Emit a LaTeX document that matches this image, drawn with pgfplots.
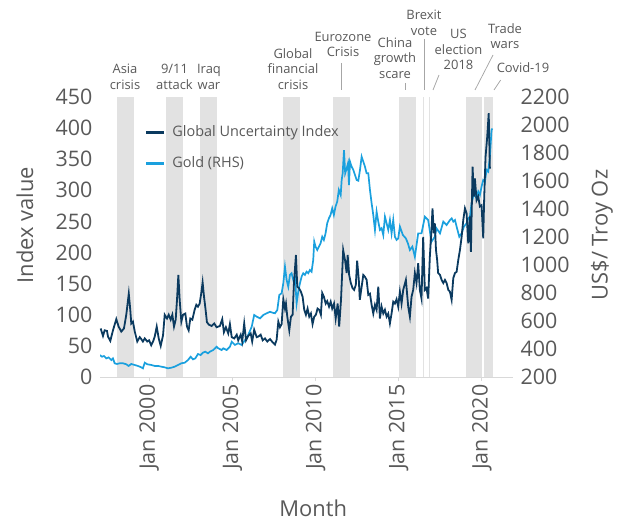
\documentclass[border=0pt]{standalone}
\usepackage{pgfplots}
\pgfplotsset{compat=1.18}
\usepackage{pgfplotstable}
\usepackage{fontspec}
\setmainfont{Open Sans}

\definecolor{navy}{HTML}{0B3A5F}
\definecolor{goldblue}{HTML}{1AA0DE}
\definecolor{band}{HTML}{E2E2E2}
\definecolor{textgray}{HTML}{595959}
\definecolor{axisgray}{HTML}{D9D9D9}
\definecolor{leadgray}{HTML}{A6A6A6}

\newcommand\tickfont{\fontsize{21.5}{24}\selectfont}
\newcommand\labfont{\fontsize{22}{26}\selectfont}
\newcommand\notefont{\fontsize{13}{15.5}\selectfont}

% Global Uncertainty Index (left axis)
\pgfplotstableread{
year gui
1997.08 78
1997.22 66
1997.32 75
1997.46 74
1997.52 65
1997.66 58
1997.82 75
1998.02 93
1998.16 81
1998.32 73
1998.48 78
1998.62 100
1998.77 134
1998.86 108
1998.92 86
1999.02 89
1999.13 73
1999.28 57
1999.43 64
1999.52 61
1999.62 57
1999.73 62
1999.88 57
1999.99 59
2000.12 51
2000.23 57
2000.33 65
2000.45 81
2000.57 62
2000.69 50
2000.83 67
2000.93 100
2001.07 94
2001.17 100
2001.29 92
2001.39 100
2001.49 81
2001.59 92
2001.67 124
2001.75 164
2001.83 124
2001.93 89
2002.03 100
2002.17 102
2002.27 81
2002.37 75
2002.47 94
2002.59 92
2002.73 108
2002.83 116
2002.93 113
2003.03 118
2003.13 135
2003.21 152
2003.29 130
2003.38 110
2003.47 88
2003.59 84
2003.75 82
2003.91 86
2004.05 80
2004.25 82
2004.39 93
2004.49 72
2004.61 80
2004.75 70
2004.85 85
2004.96 64
2005.11 62
2005.26 68
2005.35 59
2005.50 68
2005.59 57
2005.71 86
2005.82 59
2005.95 66
2006.10 70
2006.19 57
2006.31 76
2006.46 64
2006.56 65
2006.70 68
2006.82 59
2006.96 62
2007.10 57
2007.26 61
2007.41 56
2007.56 52
2007.66 60
2007.76 89
2007.86 80
2007.96 85
2008.06 125
2008.16 110
2008.22 118
2008.30 97
2008.42 75
2008.52 97
2008.62 100
2008.70 151
2008.82 196
2008.90 145
2009.00 143
2009.12 137
2009.22 129
2009.32 108
2009.42 100
2009.52 110
2009.62 97
2009.72 102
2009.82 85
2009.92 97
2010.02 100
2010.12 110
2010.22 108
2010.32 100
2010.40 135
2010.50 129
2010.61 118
2010.70 122
2010.81 113
2010.91 121
2011.00 110
2011.11 118
2011.21 94
2011.33 118
2011.42 81
2011.53 124
2011.66 204
2011.77 188
2011.87 167
2011.93 196
2012.02 164
2012.12 151
2012.22 143
2012.32 140
2012.42 148
2012.50 187
2012.60 156
2012.66 124
2012.77 145
2012.87 164
2012.97 161
2013.07 156
2013.17 132
2013.27 134
2013.37 116
2013.47 102
2013.57 116
2013.67 108
2013.77 145
2013.87 94
2013.97 113
2014.07 102
2014.17 108
2014.27 97
2014.37 102
2014.47 86
2014.57 102
2014.67 121
2014.77 118
2014.87 125
2014.97 113
2015.07 137
2015.17 118
2015.27 140
2015.43 156
2015.57 113
2015.67 97
2015.77 129
2015.87 140
2015.97 167
2016.07 151
2016.17 183
2016.27 140
2016.37 126
2016.47 225
2016.57 140
2016.67 143
2016.77 126
2016.87 193
2016.97 236
2017.03 271
2017.11 231
2017.17 247
2017.24 204
2017.31 188
2017.37 167
2017.48 164
2017.58 156
2017.68 151
2017.78 156
2017.88 151
2017.98 140
2018.08 137
2018.18 124
2018.28 159
2018.38 167
2018.48 169
2018.58 188
2018.68 204
2018.78 225
2018.88 252
2018.98 271
2019.08 263
2019.18 215
2019.28 258
2019.34 201
2019.44 338
2019.52 290
2019.58 319
2019.68 284
2019.78 290
2019.88 274
2019.98 276
2020.08 223
2020.14 290
2020.22 354
2020.32 386
2020.41 424
2020.48 335
}\guidata

% Gold price, US$ per troy ounce (right axis)
\pgfplotstableread{
year gold
1997.02 357
1997.16 345
1997.28 350
1997.42 333
1997.56 340
1997.72 321
1997.82 333
1997.92 298
1998.06 293
1998.22 298
1998.42 298
1998.62 291
1998.76 279
1998.92 293
1999.12 286
1999.32 279
1999.52 269
1999.62 262
1999.73 302
1999.88 291
2000.12 286
2000.33 279
2000.53 279
2000.72 274
2000.93 269
2001.12 262
2001.32 266
2001.53 274
2001.73 286
2001.93 298
2002.13 302
2002.33 321
2002.49 345
2002.63 326
2002.77 333
2002.93 364
2003.09 357
2003.23 374
2003.37 381
2003.53 369
2003.65 381
2003.85 393
2004.05 416
2004.15 405
2004.35 393
2004.45 405
2004.65 393
2004.85 416
2004.96 452
2005.15 429
2005.35 441
2005.56 429
2005.76 464
2005.95 500
2006.16 559
2006.31 643
2006.46 631
2006.66 619
2006.86 643
2007.06 655
2007.26 666
2007.42 659
2007.56 655
2007.70 679
2007.82 786
2007.96 798
2008.06 869
2008.16 988
2008.26 893
2008.36 845
2008.46 929
2008.56 941
2008.66 893
2008.76 917
2008.86 726
2008.96 809
2009.06 869
2009.16 917
2009.26 941
2009.36 929
2009.46 952
2009.56 941
2009.66 964
2009.76 952
2009.86 1036
2009.92 1167
2010.00 1131
2010.10 1107
2010.20 1131
2010.30 1155
2010.40 1202
2010.50 1179
2010.60 1226
2010.70 1298
2010.80 1333
2010.90 1357
2011.00 1405
2011.10 1357
2011.20 1417
2011.30 1452
2011.40 1536
2011.51 1500
2011.57 1607
2011.63 1655
2011.71 1821
2011.78 1655
2011.87 1690
2011.95 1726
2012.01 1571
2012.07 1738
2012.17 1702
2012.27 1679
2012.37 1643
2012.47 1607
2012.57 1602
2012.67 1679
2012.77 1774
2012.87 1738
2012.97 1702
2013.07 1655
2013.17 1655
2013.27 1536
2013.37 1441
2013.47 1357
2013.57 1250
2013.67 1381
2013.77 1310
2013.87 1250
2013.97 1262
2014.07 1214
2014.17 1345
2014.27 1298
2014.37 1250
2014.47 1321
2014.57 1226
2014.67 1321
2014.77 1202
2014.87 1179
2014.97 1190
2015.07 1274
2015.25 1214
2015.43 1190
2015.55 1155
2015.67 1107
2015.82 1131
2015.97 1059
2016.17 1226
2016.37 1226
2016.57 1345
2016.77 1321
2016.97 1167
2017.17 1202
2017.27 1262
2017.48 1226
2017.68 1310
2017.88 1286
2018.08 1321
2018.18 1333
2018.28 1310
2018.38 1321
2018.48 1274
2018.64 1202
2018.78 1226
2018.92 1274
2019.08 1298
2019.18 1333
2019.28 1345
2019.38 1441
2019.48 1488
2019.58 1512
2019.68 1476
2019.78 1524
2019.88 1500
2019.98 1560
2020.08 1607
2020.18 1595
2020.28 1679
2020.38 1667
2020.48 1774
2020.58 1964
2020.63 1975
}\golddata

\begin{document}
\begin{tikzpicture}
\useasboundingbox (0,0) rectangle (622bp,522bp);

% gold on the right-hand axis, with the event bands behind it
\begin{axis}[
    at={(100bp,145bp)}, anchor=south west,
    scale only axis, width=413bp, height=280bp,
    xmin=1997.04, xmax=2021.87,
    ymin=200, ymax=2200,
    axis x line*=bottom, axis y line*=right,
    x axis line style={draw=axisgray, line width=1bp, -},
    y axis line style={draw=none},
    xtick={2000,2005,2010,2015,2020},
    xticklabels={Jan 2000,Jan 2005,Jan 2010,Jan 2015,Jan 2020},
    xtick style={draw=axisgray, line width=1bp},
    tick align=outside, major tick length=4bp,
    ytick={200,400,...,2200},
    ytick style={draw=none},
    tick label style={font=\tickfont, text=textgray},
    x tick label style={rotate=90, anchor=east},
    y tick label style={anchor=west},
    /pgf/number format/assume math mode=true,
    /pgf/number format/1000 sep={},
    scaled y ticks=false,
    xlabel={Month},
    ylabel={US\$/ Troy Oz},
    label style={font=\labfont, text=textgray},
    xlabel style={at={(axis description cs:0.516,-0.47)}, anchor=center},
    ylabel style={at={(axis description cs:1.2155,0.507)}, anchor=center},
]
\addplot[fill=band, draw=none, forget plot] coordinates {(1998.08,200) (1998.08,2200) (1999.08,2200) (1999.08,200)} -- cycle;
\addplot[fill=band, draw=none, forget plot] coordinates {(2001.00,200) (2001.00,2200) (2002.00,2200) (2002.00,200)} -- cycle;
\addplot[fill=band, draw=none, forget plot] coordinates {(2003.05,200) (2003.05,2200) (2004.05,2200) (2004.05,200)} -- cycle;
\addplot[fill=band, draw=none, forget plot] coordinates {(2008.06,200) (2008.06,2200) (2009.06,2200) (2009.06,200)} -- cycle;
\addplot[fill=band, draw=none, forget plot] coordinates {(2011.06,200) (2011.06,2200) (2012.06,2200) (2012.06,200)} -- cycle;
\addplot[fill=band, draw=none, forget plot] coordinates {(2015.03,200) (2015.03,2200) (2016.03,2200) (2016.03,200)} -- cycle;
\addplot[fill=band, draw=none, forget plot] coordinates {(2016.43,200) (2016.43,2200) (2016.51,2200) (2016.51,200)} -- cycle;
\addplot[fill=band, draw=none, forget plot] coordinates {(2016.79,200) (2016.79,2200) (2016.87,2200) (2016.87,200)} -- cycle;
\addplot[fill=band, draw=none, forget plot] coordinates {(2019.03,200) (2019.03,2200) (2020.03,2200) (2020.03,200)} -- cycle;
\addplot[fill=band, draw=none, forget plot] coordinates {(2020.10,200) (2020.10,2200) (2020.68,2200) (2020.68,200)} -- cycle;
\addplot[goldblue, line width=1.7bp] table[x=year, y=gold] {\golddata};
\end{axis}

% uncertainty index on the left-hand axis
\begin{axis}[
    at={(100bp,145bp)}, anchor=south west,
    scale only axis, width=413bp, height=280bp,
    xmin=1997.04, xmax=2021.87,
    ymin=0, ymax=450,
    hide x axis,
    axis y line*=left,
    y axis line style={draw=none},
    ytick={0,50,...,450},
    ytick style={draw=none},
    tick align=outside, major tick length=4bp,
    tick label style={font=\tickfont, text=textgray},
    y tick label style={anchor=east},
    /pgf/number format/assume math mode=true,
    ylabel={Index value},
    label style={font=\labfont, text=textgray},
    ylabel style={at={(axis description cs:-0.1816,0.543)}, anchor=center},
    legend image code/.code={\draw[#1, line width=2.2bp] (0bp,0bp) -- (18bp,0bp);},
    legend cell align=left,
    legend style={at={(axis description cs:0.109,0.9)}, anchor=north west,
        draw=none, fill=none, inner sep=0pt,
        font=\fontsize{14.5}{17}\selectfont, text=textgray,
        row sep=16.5bp, column sep=7bp,
        nodes={inner sep=0pt, text height=11bp, text depth=3.5bp}},
]
\addplot[navy, line width=1.8bp] table[x=year, y=gui] {\guidata};
\addlegendentry{Global Uncertainty Index}
\addlegendimage{goldblue}
\addlegendentry{Gold (RHS)}
\end{axis}

% event labels above the plot
\begin{scope}[every node/.style={font=\notefont, text=textgray, inner sep=0pt, anchor=base}]
\node at (125bp,448bp) {Asia};
\node at (125bp,432.5bp) {crisis};
\node at (174.5bp,448bp) {9/11};
\node at (174.5bp,432.5bp) {attack};
\node at (209bp,448bp) {Iraq};
\node at (209bp,432.5bp) {war};
\node at (293bp,463.5bp) {Global};
\node at (293bp,448bp) {financial};
\node at (293bp,432.5bp) {crisis};
\node at (343bp,480bp) {Eurozone};
\node at (343bp,465bp) {Crisis};
\node at (395bp,474.5bp) {China};
\node at (395bp,459bp) {growth};
\node at (395bp,443.5bp) {scare};
\node at (424bp,502.5bp) {Brexit};
\node at (424bp,486.5bp) {vote};
\node at (458.5bp,483.5bp) {US};
\node at (458.5bp,467bp) {election};
\node at (458.5bp,452bp) {2018};
\node at (505bp,488.5bp) {Trade};
\node at (505bp,473.5bp) {wars};
\node at (523bp,449bp) {Covid-19};
\end{scope}
\begin{scope}[leadgray, line width=0.75bp]
\draw (341.7bp,459bp) -- (341.7bp,432bp);
\draw (405.7bp,439bp) -- (405.7bp,432bp);
\draw (424.3bp,483bp) -- (424.3bp,432bp);
\draw (439bp,447bp) -- (433bp,432bp);
\draw (493bp,467bp) -- (475bp,432bp);
\draw (500.7bp,442bp) -- (494bp,432bp);
\end{scope}
\end{tikzpicture}
\end{document}
